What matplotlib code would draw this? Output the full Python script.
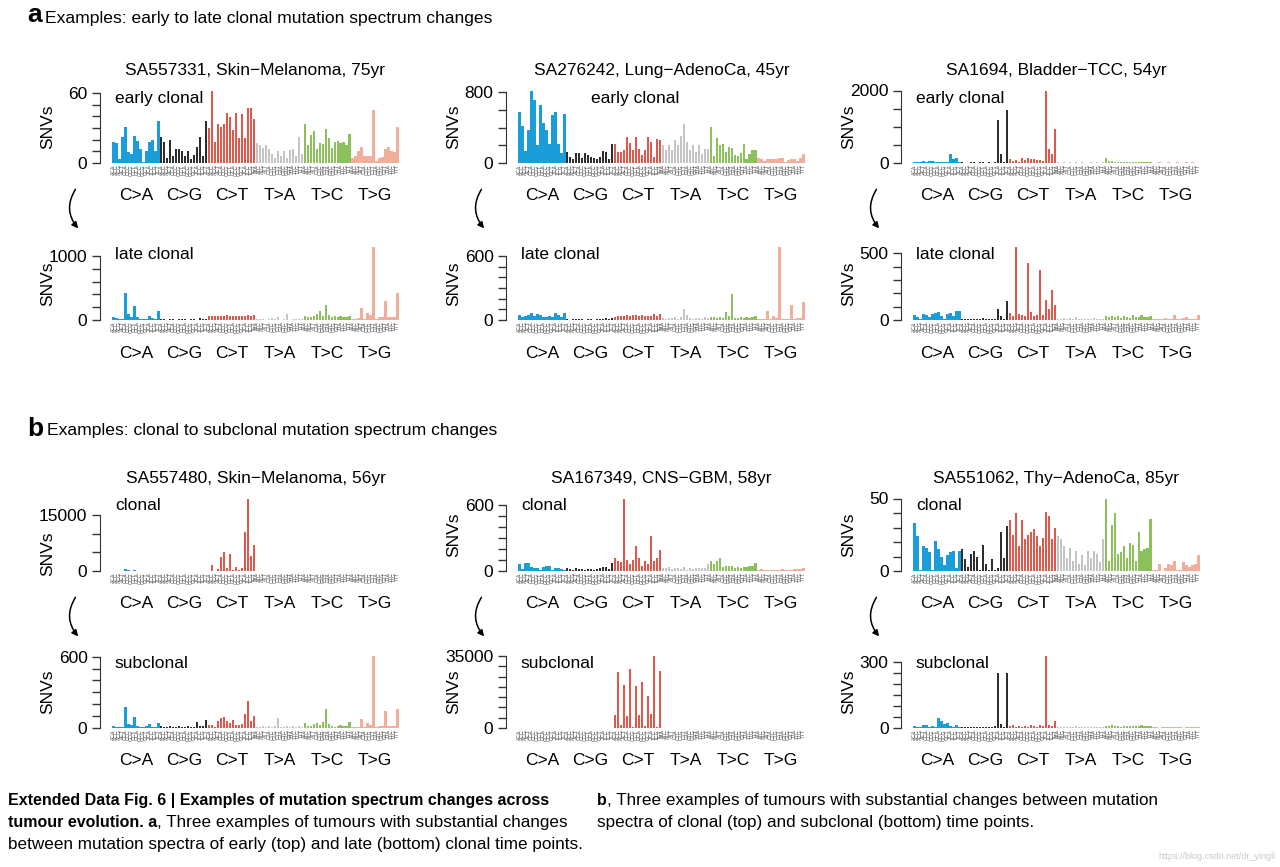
import numpy as np
import matplotlib
matplotlib.use('Agg')
import matplotlib.pyplot as plt
from matplotlib import font_manager
from matplotlib.patches import FancyArrowPatch

plt.rcParams['font.family'] = ['Liberation Sans', 'DejaVu Sans']

W, H = 1280, 867

mut_types = ['C>A', 'C>G', 'C>T', 'T>A', 'T>C', 'T>G']
type_colors = ['#1b9dd9', '#2d2d2d', '#e0574b', '#c4c4c4', '#8cc05a', '#f1ae9b']
bases = ['A', 'C', 'G', 'T']
contexts = [a + m[0] + b for m in mut_types for a in bases for b in bases]

titles = ['SA557331, Skin\u2212Melanoma, 75yr', 'SA276242, Lung\u2212AdenoCa, 45yr',
          'SA1694, Bladder\u2212TCC, 54yr', None, None, None,
          'SA557480, Skin\u2212Melanoma, 56yr', 'SA167349, CNS\u2212GBM, 58yr',
          'SA551062, Thy\u2212AdenoCa, 85yr', None, None, None]
stages = ['early clonal'] * 3 + ['late clonal'] * 3 + ['clonal'] * 3 + ['subclonal'] * 3
ytop = [60, 800, 2000, 1000, 600, 500, 15000, 600, 50, 600, 35000, 300]
ystep = [10, 200, 500, 200, 100, 100, 5000, 100, 10, 100, 5000, 50]

# 96 trinucleotide counts per panel, in C>A, C>G, C>T, T>A, T>C, T>G order
sa557331_early = [18, 17, 3, 22, 31, 9, 8, 23, 19, 12, 1, 10, 18, 20, 10, 36,
                  22, 18, 4, 20, 6, 12, 12, 10, 6, 10, 3, 7, 14, 22, 6, 36,
                  30, 62, 18, 33, 31, 33, 43, 39, 28, 43, 21, 42, 21, 47, 47, 38,
                  17, 15, 13, 15, 12, 8, 4, 10, 6, 10, 4, 11, 12, 6, 22, 8,
                  33, 15, 24, 27, 12, 17, 16, 29, 21, 13, 18, 19, 17, 18, 15, 25,
                  4, 6, 10, 14, 6, 6, 6, 45, 2, 4, 5, 12, 14, 10, 9, 31]
sa276242_early = [575, 420, 140, 370, 820, 715, 200, 660, 450, 370, 210, 540, 580, 210, 110, 550,
                  125, 70, 40, 110, 110, 60, 110, 90, 70, 60, 40, 70, 140, 120, 40, 220,
                  215, 125, 125, 150, 295, 230, 150, 290, 160, 90, 145, 290, 240, 70, 270, 260,
                  200, 150, 200, 150, 260, 200, 300, 440, 240, 150, 200, 120, 200, 100, 160, 160,
                  405, 75, 280, 200, 210, 125, 185, 165, 90, 75, 115, 215, 50, 100, 145, 150,
                  60, 40, 20, 40, 40, 50, 40, 60, 60, 10, 30, 40, 50, 20, 60, 100]
sa1694_early = [40, 20, 30, 50, 40, 50, 50, 40, 30, 20, 30, 20, 250, 120, 140, 30,
                15, 10, 10, 20, 15, 10, 25, 40, 10, 15, 10, 20, 1200, 250, 20, 1450,
                100, 50, 90, 30, 150, 90, 130, 100, 100, 70, 80, 60, 2000, 400, 250, 950,
                15, 10, 20, 10, 15, 10, 20, 10, 15, 10, 10, 15, 10, 20, 10, 15,
                150, 60, 50, 40, 40, 20, 30, 40, 30, 30, 40, 20, 30, 40, 20, 20,
                10, 10, 15, 10, 10, 20, 10, 10, 15, 10, 10, 15, 10, 15, 10, 10]
sa557331_late = [40, 25, 10, 15, 420, 100, 45, 220, 40, 10, 10, 15, 55, 30, 15, 140,
                 20, 10, 5, 20, 10, 5, 20, 15, 10, 5, 15, 10, 5, 25, 20, 10,
                 60, 55, 60, 65, 70, 60, 75, 60, 55, 60, 65, 55, 60, 75, 70, 85,
                 15, 10, 20, 5, 15, 30, 10, 50, 5, 10, 90, 5, 15, 20, 15, 10,
                 63, 42, 53, 60, 90, 142, 60, 237, 79, 53, 63, 53, 63, 53, 45, 63,
                 20, 20, 25, 190, 20, 105, 80, 1130, 10, 40, 40, 300, 40, 40, 45, 420]
sa276242_late = [45, 30, 35, 50, 65, 35, 60, 45, 30, 25, 40, 30, 70, 50, 30, 70,
                 5, 3, 5, 10, 5, 10, 3, 5, 5, 3, 10, 5, 10, 15, 5, 20,
                 30, 40, 40, 35, 45, 40, 45, 45, 40, 45, 40, 35, 40, 60, 40, 55,
                 15, 10, 20, 15, 30, 10, 30, 100, 50, 20, 10, 15, 20, 10, 25, 15,
                 25, 25, 15, 30, 20, 79, 40, 243, 20, 20, 25, 15, 30, 20, 25, 40,
                 5, 5, 5, 80, 5, 40, 20, 680, 5, 5, 5, 140, 5, 20, 20, 170]
sa1694_late = [35, 20, 10, 45, 40, 20, 45, 50, 60, 30, 10, 45, 50, 30, 65, 70,
               10, 8, 5, 10, 10, 8, 10, 12, 10, 8, 5, 10, 80, 30, 10, 140,
               55, 30, 545, 45, 40, 30, 425, 60, 30, 35, 375, 35, 150, 85, 225, 115,
               10, 5, 15, 10, 15, 5, 20, 10, 5, 10, 5, 5, 15, 10, 10, 5,
               30, 25, 30, 20, 30, 15, 30, 25, 15, 35, 20, 20, 40, 25, 20, 30,
               5, 5, 10, 10, 15, 5, 10, 40, 5, 10, 15, 20, 10, 10, 5, 40]
sa557480_clonal = [80, 50, 20, 100, 500, 150, 100, 300, 50, 30, 20, 50, 50, 80, 40, 100,
                   30, 20, 10, 30, 20, 10, 30, 20, 10, 20, 10, 20, 30, 60, 20, 80,
                   100, 1500, 100, 600, 3800, 5100, 800, 4500, 200, 1100, 200, 900, 10500, 19500, 4000, 7100,
                   50, 30, 40, 30, 60, 40, 50, 40, 30, 40, 30, 40, 50, 40, 60, 50,
                   60, 40, 50, 60, 80, 60, 100, 80, 120, 60, 50, 60, 80, 60, 100, 60,
                   30, 20, 20, 40, 20, 40, 30, 80, 20, 20, 20, 50, 20, 30, 20, 60]
sa167349_clonal = [65, 20, 70, 70, 35, 30, 25, 5, 40, 45, 45, 10, 25, 30, 20, 5,
                   30, 20, 10, 30, 20, 20, 10, 20, 15, 10, 20, 25, 35, 40, 20, 75,
                   120, 90, 80, 660, 100, 60, 100, 230, 120, 50, 90, 60, 320, 90, 120, 190,
                   30, 25, 35, 20, 25, 30, 20, 35, 10, 25, 20, 25, 30, 25, 30, 60,
                   95, 60, 90, 120, 40, 50, 45, 50, 30, 35, 30, 40, 40, 50, 45, 70,
                   10, 15, 5, 10, 5, 10, 5, 10, 15, 5, 5, 10, 15, 20, 20, 30]
sa551062_clonal = [33, 24, 1, 17, 16, 13, 1, 21, 15, 10, 4, 11, 13, 14, 2, 14,
                   15, 8, 3, 12, 14, 10, 1, 18, 5, 1, 8, 1, 2, 27, 9, 31,
                   35, 25, 40, 17, 35, 22, 25, 27, 29, 24, 17, 23, 41, 38, 22, 30,
                   24, 22, 17, 9, 16, 7, 14, 5, 11, 4, 14, 9, 14, 12, 6, 22,
                   50, 7, 32, 40, 12, 13, 17, 9, 19, 18, 7, 27, 14, 15, 16, 36,
                   1, 1, 5, 0, 2, 5, 4, 7, 1, 1, 6, 4, 3, 4, 5, 11]
sa557480_subclonal = [20, 8, 5, 10, 180, 35, 25, 90, 20, 8, 5, 20, 30, 12, 5, 45,
                      15, 10, 5, 15, 10, 5, 15, 10, 5, 15, 10, 5, 48, 20, 15, 68,
                      25, 25, 10, 60, 80, 95, 60, 40, 70, 25, 25, 30, 120, 225, 60, 100,
                      10, 5, 20, 5, 15, 10, 20, 85, 5, 10, 15, 10, 15, 10, 15, 10,
                      40, 20, 15, 30, 45, 25, 50, 160, 30, 15, 10, 20, 25, 20, 20, 50,
                      5, 5, 5, 75, 5, 45, 25, 610, 5, 20, 20, 140, 20, 20, 15, 160]
sa167349_subclonal = [150, 90, 60, 120, 110, 70, 80, 60, 100, 90, 50, 70, 120, 80, 60, 90,
                      60, 40, 30, 50, 40, 30, 50, 40, 30, 40, 20, 30, 60, 50, 40, 80,
                      6450, 27100, 1450, 21000, 5650, 28700, 500, 20200, 6100, 22250, 1100, 15300, 6800, 35200, 300, 27900,
                      80, 60, 90, 50, 70, 60, 80, 90, 60, 70, 50, 60, 80, 70, 60, 90,
                      120, 80, 100, 90, 110, 70, 90, 100, 80, 90, 70, 80, 100, 90, 80, 110,
                      50, 40, 30, 60, 40, 50, 40, 70, 30, 40, 30, 50, 40, 50, 40, 60]
sa551062_subclonal = [10, 5, 6, 12, 15, 5, 10, 4, 45, 30, 20, 25, 10, 5, 15, 6,
                      5, 4, 3, 6, 5, 3, 5, 4, 3, 6, 5, 10, 250, 20, 5, 250,
                      10, 12, 5, 10, 6, 10, 5, 12, 10, 6, 15, 10, 330, 15, 10, 30,
                      5, 3, 6, 4, 5, 3, 7, 4, 5, 3, 6, 3, 5, 4, 6, 3,
                      10, 8, 12, 7, 10, 6, 11, 8, 9, 7, 10, 8, 12, 8, 10, 9,
                      3, 5, 2, 6, 3, 5, 4, 6, 3, 5, 2, 5, 3, 6, 3, 5]

panels = [sa557331_early, sa276242_early, sa1694_early,
          sa557331_late, sa276242_late, sa1694_late,
          sa557480_clonal, sa167349_clonal, sa551062_clonal,
          sa557480_subclonal, sa167349_subclonal, sa551062_subclonal]

# layout in reference pixels
col_spine = [100, 506, 901]
row_zero = [163, 320, 571, 728]
ax_h = 72.5
px_bar = 2.99
xlo, xhi = -4.5, 95.7
ax_w = (xhi - xlo) * px_bar
stage_x = [0.5, 24.0, 0.5, 0.5, 0.5, 0.5, 0.5, 0.5, 0.5, 0.5, 0.5, 0.5]
snv_y = [0.5] * 12
snv_y[6] = 0.24

fig = plt.figure(figsize=(12.8, 8.67), dpi=100)
renderer = fig.canvas.get_renderer()


def fx(x):
    return x / W


def fy(y):
    return 1 - y / H


bar_colors = np.repeat(type_colors, 16)
xs = np.arange(96)

for i, vals in enumerate(panels):
    r, c = divmod(i, 3)
    ax = fig.add_axes([fx(col_spine[c]), fy(row_zero[r]), ax_w / W, ax_h / H])
    ax.bar(xs, vals, width=0.8, color=bar_colors, linewidth=0)
    ax.set_xlim(xlo, xhi)
    ax.set_ylim(0, max(vals))
    for s in ['top', 'right', 'bottom']:
        ax.spines[s].set_visible(False)
    ax.spines['left'].set_bounds(0, ytop[i])
    ax.spines['left'].set_color('#333333')
    ticks = np.arange(0, ytop[i] + ystep[i] / 2, ystep[i])
    ax.set_yticks(ticks)
    ax.set_yticklabels([str(int(t)) if t in (0, ytop[i]) else '' for t in ticks])
    ax.tick_params(axis='y', length=6, width=1, color='#333333', labelsize=12.5, pad=3)
    ax.set_xticks(xs)
    ax.set_xticklabels(contexts, rotation=90, fontsize=3.6, color='#555555')
    ax.tick_params(axis='x', length=0, pad=1)
    tr = ax.get_xaxis_transform()
    for k, m in enumerate(mut_types):
        ax.text(k * 16 + 7.5, -33 / ax_h, m, transform=tr, ha='center', va='center', fontsize=12.5)
    ax.text(stage_x[i], 1.0, stages[i], transform=tr, ha='left', va='top', fontsize=12.5)
    ax.text(-52 / ax_w, snv_y[i], 'SNVs', transform=ax.transAxes, rotation=90,
            ha='center', va='center', fontsize=12.5)
    if titles[i]:
        ax.text(47.5, 1 + 15 / ax_h, titles[i], transform=tr, ha='center', va='baseline', fontsize=12.5)

# curved arrows between time points
for r0, r1 in [(0, 1), (2, 3)]:
    for c in range(3):
        x0 = col_spine[c] - 23
        arr = FancyArrowPatch((fx(x0), fy(row_zero[r0] + 24)), (fx(x0 + 3), fy(row_zero[r1] - ax_h - 17)),
                              transform=fig.transFigure, connectionstyle='arc3,rad=0.4',
                              arrowstyle='-|>', mutation_scale=9, lw=1.1, color='black')
        fig.add_artist(arr)

# panel headings
fig.text(fx(27), fy(22.5), 'a', fontsize=19, fontweight='bold', va='baseline')
fig.text(fx(45), fy(22.5), 'Examples: early to late clonal mutation spectrum changes', fontsize=12.6, va='baseline')
fig.text(fx(27), fy(435.5), 'b', fontsize=19, fontweight='bold', va='baseline')
fig.text(fx(47), fy(435.5), 'Examples: clonal to subclonal mutation spectrum changes', fontsize=12.6, va='baseline')

# caption
installed = {f.name for f in font_manager.fontManager.ttflist}
cap_family = 'Liberation Sans Narrow' if 'Liberation Sans Narrow' in installed else 'Liberation Sans'


def text_width(s, **kw):
    t = fig.text(0, 0, s, **kw)
    w = t.get_window_extent(renderer).width
    t.remove()
    return w


probe = 'between mutation spectra of early (top) and late (bottom) clonal time points.'
head = 'Extended Data Fig. 6 | Examples of mutation spectrum changes across'
cap_size = 10 * 574 / text_width(probe, fontsize=10, family=cap_family)
bold_size = 10 * 540 / text_width(head, fontsize=10, fontweight='bold', family=cap_family)


def draw_runs(x, y, runs):
    for s, weight in runs:
        size = bold_size if weight == 'bold' else cap_size
        kw = dict(fontsize=size, fontweight=weight, family=cap_family)
        fig.text(fx(x), fy(y), s, va='baseline', ha='left', **kw)
        x += text_width(s, **kw)


draw_runs(8, 805, [(head, 'bold')])
draw_runs(8, 827, [('tumour evolution. a', 'bold'),
                   (', Three examples of tumours with substantial changes', 'normal')])
draw_runs(8, 849, [(probe, 'normal')])
draw_runs(597, 805, [('b', 'bold'),
                     (', Three examples of tumours with substantial changes between mutation', 'normal')])
draw_runs(597, 827, [('spectra of clonal (top) and subclonal (bottom) time points.', 'normal')])

fig.text(fx(1276), fy(859), 'https://blog.csdn.net/dr_yingli', ha='right', va='baseline',
         fontsize=6.5, color='#c8c8c8')

fig.savefig('out.png', dpi=100)
